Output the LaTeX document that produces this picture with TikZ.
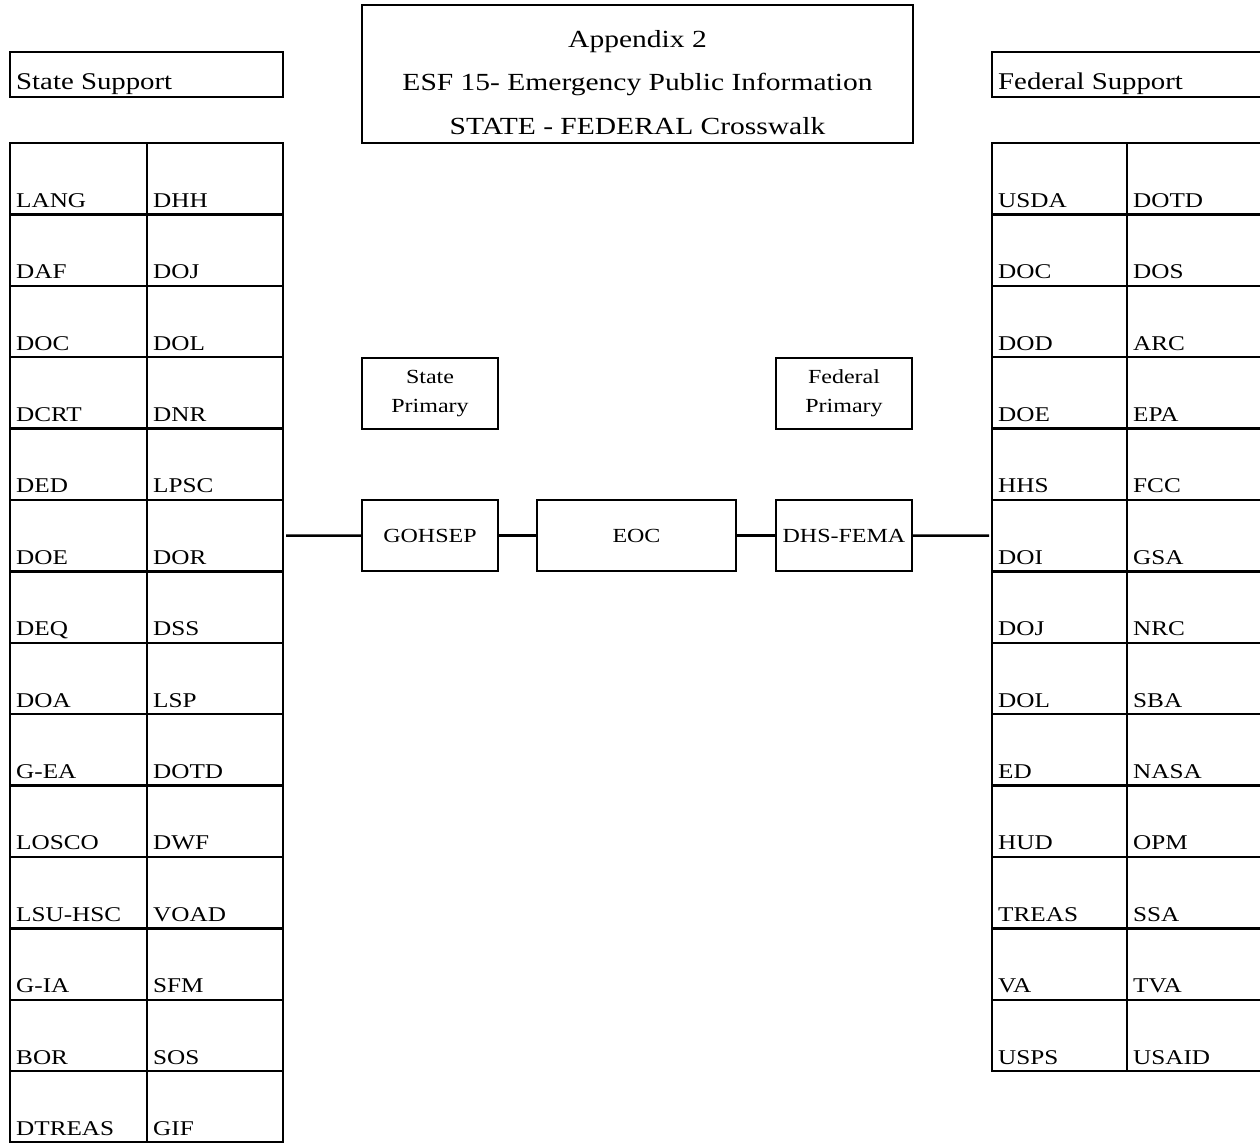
\documentclass[tikz,border=0pt]{standalone}
\usepackage{fontspec}
\setmainfont[FakeStretch=1.2]{Liberation Serif}
\usetikzlibrary{positioning}

\newcommand{\fsz}[2]{\fontsize{#1}{#2}\selectfont}

\tikzset{
  cell/.style={draw, inner sep=0pt, outer sep=0pt, anchor=north west, minimum height=35.7pt},
  cellname/.style={anchor=base west, inner sep=0pt, font=\fsz{10.5}{12}},
  hdr/.style={draw, inner sep=0pt, outer sep=0pt, anchor=north west, minimum height=22.5pt},
  hdrname/.style={anchor=base west, inner sep=0pt, font=\fsz{12}{14}},
  titlename/.style={anchor=base, inner sep=0pt, font=\fsz{12.3}{14}},
  box/.style={draw, inner sep=0pt, outer sep=0pt, minimum height=35.5pt, align=center, font=\fsz{10}{14.5}}
}

\begin{document}
\begin{tikzpicture}[x=0.5pt, y=-0.5pt, line width=1.2pt]
  \useasboundingbox (0,0) rectangle (1260,1143);
  \clip (0,0) rectangle (1260,1143);

  % title
  \node[hdr, minimum width=275.5pt, minimum height=69pt] (ttl) at (362,5) {};
  \foreach \t/\y [count=\k] in {Appendix 2/48, ESF 15- Emergency Public Information/91, STATE - FEDERAL Crosswalk/135}
    { \node[titlename] (ttl\k) at (637.5,\y) {\t}; }

  % headers
  \node[hdr, minimum width=136.5pt] (shdr) at (10,52) {};
  \node[hdrname] (shdrname) at ([xshift=2.5pt, yshift=3.5pt]shdr.south west) {State Support};
  \node[hdr, minimum width=135.5pt] (fhdr) at (992,52) {};
  \node[hdrname] (fhdrname) at ([xshift=2.5pt, yshift=3.5pt]fhdr.south west) {Federal Support};

  % state support table
  \foreach \a/\b [count=\i] in {LANG/DHH, DAF/DOJ, DOC/DOL, DCRT/DNR, DED/LPSC, DOE/DOR, DEQ/DSS,
      DOA/LSP, G-EA/DOTD, LOSCO/DWF, LSU-HSC/VOAD, G-IA/SFM, BOR/SOS, DTREAS/GIF} {
    \node[cell, minimum width=68.5pt] (sa\i) at (10,{143+71.4*(\i-1)}) {};
    \node[cell, minimum width=68pt] (sb\i) at (sa\i.north east) {};
    \node[cellname] (sna\i) at ([xshift=2.5pt, yshift=3.5pt]sa\i.south west) {\a};
    \node[cellname] (snb\i) at ([xshift=2.5pt, yshift=3.5pt]sb\i.south west) {\b};
  }

  % federal support table
  \foreach \a/\b [count=\i] in {USDA/DOTD, DOC/DOS, DOD/ARC, DOE/EPA, HHS/FCC, DOI/GSA, DOJ/NRC,
      DOL/SBA, ED/NASA, HUD/OPM, TREAS/SSA, VA/TVA, USPS/USAID} {
    \node[cell, minimum width=67.5pt] (fa\i) at (992,{143+71.4*(\i-1)}) {};
    \node[cell, minimum width=68pt] (fb\i) at (fa\i.north east) {};
    \node[cellname] (fna\i) at ([xshift=2.5pt, yshift=3.5pt]fa\i.south west) {\a};
    \node[cellname] (fnb\i) at ([xshift=2.5pt, yshift=3.5pt]fb\i.south west) {\b};
  }

  % primaries and EOC
  \node[box, minimum width=68pt] (gohsep) at (430,535.5) {GOHSEP};
  \node[box, minimum width=99.5pt, right=19.5pt of gohsep] (eoc) {EOC};
  \node[box, minimum width=68pt, right=20pt of eoc] (dhsfema) {DHS-FEMA};
  \node[box, minimum width=68pt, above=35.5pt of gohsep] (sprim) {State\\Primary};
  \node[box, minimum width=68pt, above=35.5pt of dhsfema] (fprim) {Federal\\Primary};

  \draw[shorten <=1.5pt] (sb6) -- (gohsep);
  \draw (gohsep) -- (eoc);
  \draw (eoc) -- (dhsfema);
  \draw[shorten >=1.5pt] (dhsfema) -- (fa6);
\end{tikzpicture}
\end{document}
